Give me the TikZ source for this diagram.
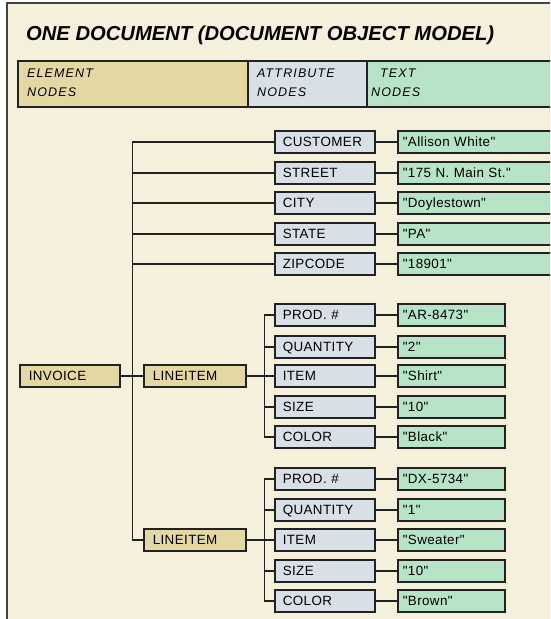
\documentclass[tikz,border=0pt]{standalone}
\usepackage{fontspec}
\setmainfont{Liberation Sans}
\newfontfamily\boxfont[LetterSpace=3]{Liberation Sans}
\newfontfamily\legfont[LetterSpace=9]{Liberation Sans}
\definecolor{bgc}{HTML}{F5F0DC}
\definecolor{elemc}{HTML}{E3D8A4}
\definecolor{attrc}{HTML}{D9DFE7}
\definecolor{textc}{HTML}{B7E4C7}
\definecolor{linec}{HTML}{222222}
\begin{document}
\begin{tikzpicture}[x=1pt,y=-1pt,
  box/.style={draw=linec, line width=1.5pt, minimum height=22pt, inner ysep=0pt,
    text height=9.7pt, text depth=0pt, align=left, anchor=west,
    font=\boxfont\fontsize{13.4}{15}\selectfont, text=black},
  elembox/.style={box, fill=elemc, inner xsep=9pt, text width=#1},
  attrbox/.style={box, fill=attrc, inner xsep=8pt, text width=84pt},
  textbox/.style={box, fill=textc, inner xsep=5pt, text width=#1},
  conn/.style={draw=linec, line width=1.5pt},
  legtext/.style={anchor=base west, inner sep=0pt, align=left,
    font=\legfont\itshape\fontsize{12.5}{19}\selectfont, text=black}]
\useasboundingbox (0,0) rectangle (550,619);
\clip (0,0) rectangle (550,619);
\fill[white] (0,0) rectangle (550,619);
\draw[draw=linec!85, line width=1.5pt, fill=bgc] (7,3) rectangle (620,680);
% title
\node[anchor=base west, inner sep=0pt, font=\bfseries\itshape\fontsize{20.2}{24}\selectfont, text=black] (title) at (26,40) {ONE DOCUMENT (DOCUMENT OBJECT MODEL)};
% legend
\draw[draw=linec, line width=1.5pt, fill=elemc] (18,61) rectangle (248,107);
\draw[draw=linec, line width=1.5pt, fill=attrc] (248,61) rectangle (367,107);
\draw[draw=linec, line width=1.5pt, fill=textc] (367,61) rectangle (620,107);
\node[legtext] (lgE) at (27,96) {ELEMENT\\NODES};
\node[legtext] (lgA) at (257,96) {ATTRIBUTE\\NODES};
\node[legtext] (lgT) at (380,96) {TEXT\\\hspace*{-9pt}NODES};
% element nodes
\node[elembox=82pt] (inv) at (19,376) {INVOICE};
\node[elembox=84pt] (li1) at (143,376) {LINEITEM};
\node[elembox=84pt] (li2) at (143,540) {LINEITEM};
% invoice attributes
\node[attrbox] (cust) at (274,142) {CUSTOMER};
\node[attrbox] (street) at (274,173) {STREET};
\node[attrbox] (city) at (274,203) {CITY};
\node[attrbox] (state) at (274,234) {STATE};
\node[attrbox] (zip) at (274,264) {ZIPCODE};
\node[textbox=190pt] (vcust) at (397,142) {"Allison White"};
\node[textbox=190pt] (vstreet) at (397,173) {"175 N. Main St."};
\node[textbox=190pt] (vcity) at (397,203) {"Doylestown"};
\node[textbox=190pt] (vstate) at (397,234) {"PA"};
\node[textbox=190pt] (vzip) at (397,264) {"18901"};
% lineitem 1
\node[attrbox] (pa) at (274,315) {PROD. \#};
\node[attrbox] (qa) at (274,347) {QUANTITY};
\node[attrbox] (ia) at (274,376) {ITEM};
\node[attrbox] (sa) at (274,407) {SIZE};
\node[attrbox] (ca) at (274,437) {COLOR};
\node[textbox=97pt] (vpa) at (397,315) {"AR-8473"};
\node[textbox=97pt] (vqa) at (397,347) {"2"};
\node[textbox=97pt] (via) at (397,376) {"Shirt"};
\node[textbox=97pt] (vsa) at (397,407) {"10"};
\node[textbox=97pt] (vca) at (397,437) {"Black"};
% lineitem 2
\node[attrbox] (pb) at (274,479) {PROD. \#};
\node[attrbox] (qb) at (274,510) {QUANTITY};
\node[attrbox] (ib) at (274,540) {ITEM};
\node[attrbox] (sb) at (274,571) {SIZE};
\node[attrbox] (cb) at (274,601) {COLOR};
\node[textbox=97pt] (vpb) at (397,479) {"DX-5734"};
\node[textbox=97pt] (vqb) at (397,510) {"1"};
\node[textbox=97pt] (vib) at (397,540) {"Sweater"};
\node[textbox=97pt] (vsb) at (397,571) {"10"};
\node[textbox=97pt] (vcb) at (397,601) {"Brown"};
% connectors: invoice
\foreach \c in {cust,street,city,state,zip,li1,li2}
  \draw[conn] (inv.east) -- ++(12,0) |- (\c.west);
\foreach \c in {pa,qa,ia,sa,ca}
  \draw[conn] (li1.east) -- ++(18,0) |- (\c.west);
\foreach \c in {pb,qb,ib,sb,cb}
  \draw[conn] (li2.east) -- ++(18,0) |- (\c.west);
\foreach \a/\v in {cust/vcust,street/vstreet,city/vcity,state/vstate,zip/vzip,
  pa/vpa,qa/vqa,ia/via,sa/vsa,ca/vca,pb/vpb,qb/vqb,ib/vib,sb/vsb,cb/vcb}
  \draw[conn] (\a.east) -- (\v.west);
\end{tikzpicture}
\end{document}
